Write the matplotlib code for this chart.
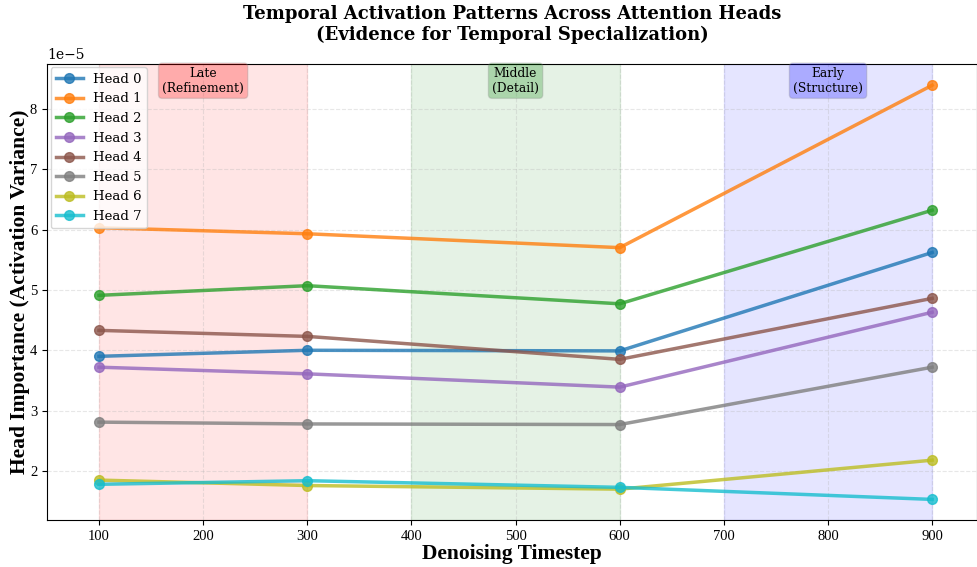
import matplotlib.pyplot as plt
import numpy as np

timesteps = [100, 300, 600, 900]
heads = ['Head 0', 'Head 1', 'Head 2', 'Head 3', 'Head 4', 'Head 5', 'Head 6', 'Head 7']
head_0 = [3.90e-5, 4.00e-5, 3.99e-5, 5.62e-5]
head_1 = [6.03e-5, 5.93e-5, 5.70e-5, 8.39e-5]
head_2 = [4.91e-5, 5.07e-5, 4.77e-5, 6.32e-5]
head_3 = [3.72e-5, 3.61e-5, 3.39e-5, 4.63e-5]
head_4 = [4.33e-5, 4.23e-5, 3.85e-5, 4.86e-5]
head_5 = [2.81e-5, 2.78e-5, 2.77e-5, 3.72e-5]
head_6 = [1.85e-5, 1.76e-5, 1.70e-5, 2.18e-5]
head_7 = [1.78e-5, 1.84e-5, 1.73e-5, 1.53e-5]
phases = [(100, 300, 'red', 'Late\n(Refinement)'),
          (400, 600, 'green', 'Middle\n(Detail)'),
          (700, 900, 'blue', 'Early\n(Structure)')]
colors = ['#1f77b4', '#ff7f0e', '#2ca02c', '#9467bd', '#8c564b', '#7f7f7f', '#bcbd22', '#17becf']

plt.rcParams['font.family'] = 'DejaVu Serif'

fig, ax = plt.subplots(figsize=(9.77, 5.67), dpi=100)

for start, end, color, label in phases:
    ax.axvspan(start, end, color=color, alpha=0.1)
    ax.text((start + end) / 2, 0.993, label, transform=ax.get_xaxis_transform(),
            ha='center', va='top', fontsize=8.8,
            bbox=dict(boxstyle='round,pad=0.3', facecolor=color, alpha=0.25, edgecolor='gray'))

series = [head_0, head_1, head_2, head_3, head_4, head_5, head_6, head_7]
for name, vals, c in zip(heads, series, colors):
    ax.plot(timesteps, vals, marker='o', linewidth=2.5, markersize=7, alpha=0.8, label=name, color=c)

ax.set_xlim(50, 943)
ax.set_ylim(1.19e-5, 8.75e-5)
ax.set_xticks(np.arange(100, 1000, 100))
for lbl in ax.get_xticklabels() + ax.get_yticklabels():
    lbl.set_family('Liberation Serif')
    lbl.set_fontsize(10.5)
ax.set_xlabel('Denoising Timestep', fontsize=15.5, fontweight='bold', family='Liberation Serif', labelpad=1)
ax.set_ylabel('Head Importance (Activation Variance)', fontsize=15.5, fontweight='bold',
              family='Liberation Serif', labelpad=0)
ax.set_title('Temporal Activation Patterns Across Attention Heads\n(Evidence for Temporal Specialization)',
             fontsize=13, fontweight='bold', pad=17)
ax.grid(True, linestyle='--', alpha=0.3)
ax.legend(loc='upper left', fontsize=9.5, borderaxespad=0.3)

fig.subplots_adjust(left=0.048, right=1.0, top=0.888, bottom=0.083)
fig.savefig('out.png')
